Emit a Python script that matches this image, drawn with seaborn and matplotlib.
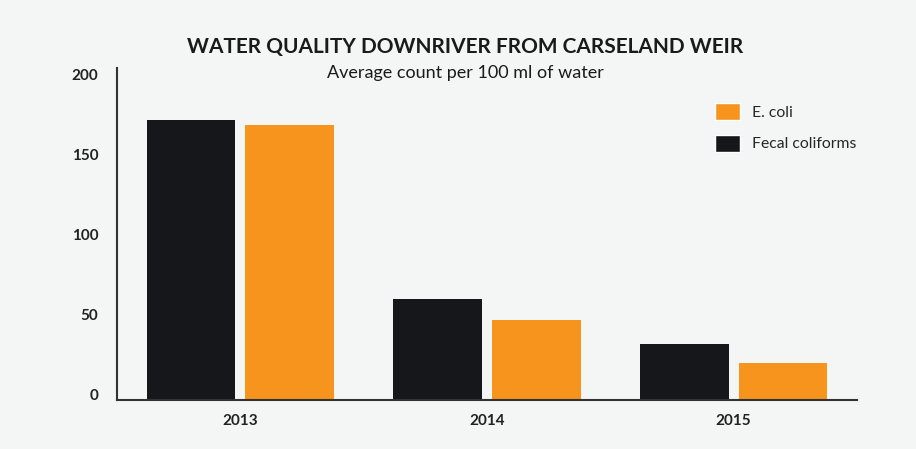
"""Water quality downriver from Carseland Weir - grouped bar chart."""

import pandas as pd
import matplotlib
matplotlib.use("Agg")
import matplotlib.pyplot as plt
import seaborn as sns
from matplotlib.patches import Patch

years = ["2013", "2014", "2015"]
fecal_coliforms = [175, 63, 35]
e_coli = [172, 50, 23]
series_names = ["Fecal coliforms", "E. coli"]
y_ticks = [0, 50, 100, 150, 200]

df = pd.DataFrame({
    "year": years * 2,
    "series": [series_names[0]] * 3 + [series_names[1]] * 3,
    "count": fecal_coliforms + e_coli,
})

bg = "#f4f5f5"
colors = {"Fecal coliforms": "#15171a", "E. coli": "#f7941d"}

sns.set_theme(style="white")
plt.rcParams["font.family"] = ["Lato", "DejaVu Sans"]

fig = plt.figure(figsize=(9.16, 4.49), dpi=100, facecolor=bg)
ax = fig.add_axes([117 / 916, 1 - 400 / 449, 740 / 916, 332 / 449])
ax.set_facecolor(bg)

sns.barplot(data=df, x="year", y="count", hue="series", hue_order=series_names,
            palette=colors, width=0.8, gap=0.1, saturation=1, linewidth=0,
            ax=ax, legend=False)

ax.set_xlim(-0.5, 2.5)
ax.set_ylim(0, 207.5)
ax.set_yticks(y_ticks)
ax.set_yticklabels([str(t) for t in y_ticks], va="baseline")
ax.tick_params(axis="y", length=0, pad=13.5, labelsize=11, labelcolor="#222222")
ax.tick_params(axis="x", length=0, pad=10, labelsize=11, labelcolor="#222222")
for lbl in ax.get_xticklabels() + ax.get_yticklabels():
    lbl.set_fontweight("bold")
ax.set_xlabel("")
ax.set_ylabel("")

sns.despine(ax=ax, top=True, right=True)
for side in ["left", "bottom"]:
    ax.spines[side].set_color("#333333")
    ax.spines[side].set_linewidth(1.5)

fig.text(465 / 916, 1 - 47 / 449, "WATER QUALITY DOWNRIVER FROM CARSELAND WEIR",
         ha="center", va="center", fontsize=15, fontweight="bold", color="#1a1a1a")
fig.text(465 / 916, 1 - 73 / 449, "Average count per 100 ml of water",
         ha="center", va="center", fontsize=13, color="#1a1a1a")

handles = [Patch(facecolor=colors["E. coli"], label="E. coli"),
           Patch(facecolor=colors["Fecal coliforms"], label="Fecal coliforms")]
fig.legend(handles=handles, loc="upper left", bbox_to_anchor=(715 / 916, 1 - 103 / 449),
           frameon=False, borderpad=0, borderaxespad=0, fontsize=11.3,
           handlelength=1.6, handleheight=1.27, handletextpad=0.75, labelspacing=0.95)

plt.savefig("out.png", dpi=100, facecolor=bg)
plt.close()
